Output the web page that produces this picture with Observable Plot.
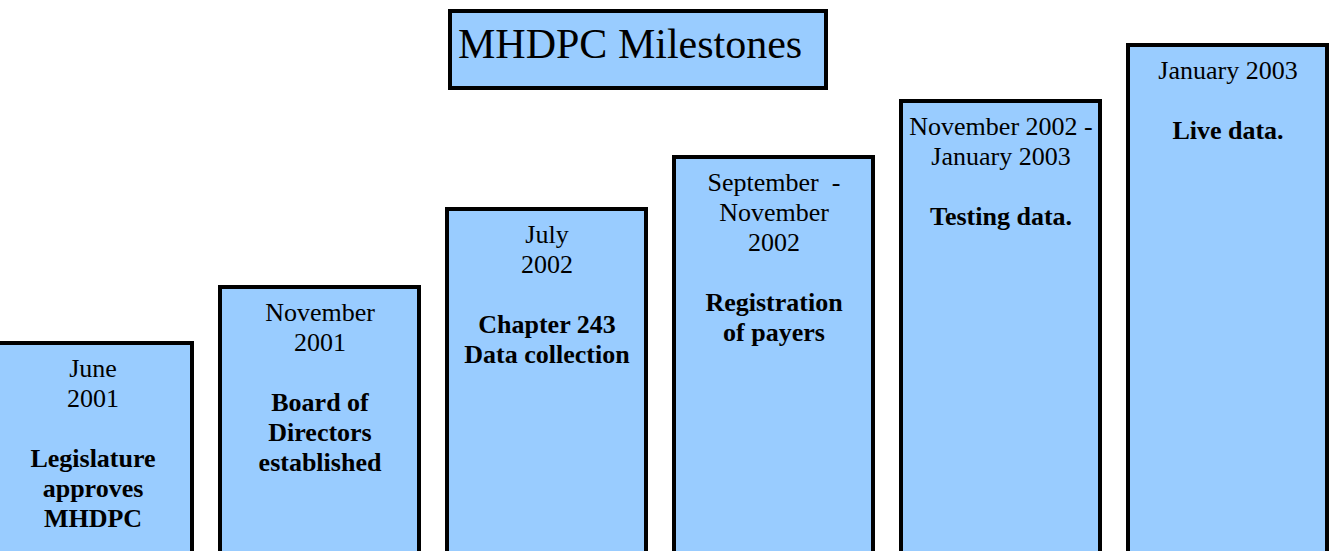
<!DOCTYPE html>
<html>
<head>
<meta charset="utf-8">
<script src="https://cdn.jsdelivr.net/npm/d3@7"></script>
<script src="https://cdn.jsdelivr.net/npm/@observablehq/plot@0.6"></script>
<style>
  html, body { margin: 0; padding: 0; background: #fff; overflow: hidden; }
  #wrap { position: relative; width: 1338px; height: 551px; overflow: hidden; }
  #wrap svg { overflow: hidden; }
  #wrap svg text { white-space: pre; }
  #title {
    position: absolute; left: 448px; top: 9px; width: 380px; height: 81px;
    box-sizing: border-box; border: 4px solid #000; background: #99CCFF;
    font-family: "Liberation Serif", "Times New Roman", serif; font-size: 42px;
    line-height: 42px; padding: 10px 0 0 6px; color: #000; white-space: nowrap;
  }
</style>
</head>
<body>
<div id="wrap"><div id="title"></div></div>
<script>
const chartTitle = "MHDPC Milestones";
const periods = ["June 2001", "November 2001", "July 2002", "September - November 2002", "November 2002 - January 2003", "January 2003"];
const dateLines = [
  ["June", "2001"],
  ["November", "2001"],
  ["July", "2002"],
  ["September  -", "November", "2002"],
  ["November 2002 -", "January 2003"],
  ["January 2003"]
];
const eventLines = [
  ["Legislature", "approves", "MHDPC"],
  ["Board of", "Directors", "established"],
  ["Chapter 243", "Data collection"],
  ["Registration", "of payers"],
  ["Testing data."],
  ["Live data."]
];
const stepHeights = [208, 264, 342, 394, 450, 506];

const rows = periods.map((p, i) => ({
  period: p,
  height: stepHeights[i],
  dates: dateLines[i].join("\n"),
  events: dateLines[i].map(() => "\u00a0").concat(["\u00a0"], eventLines[i]).join("\n")
}));

const font = '"Liberation Serif", "Times New Roman", serif';

const chart = Plot.plot({
  width: 1338,
  height: 551,
  margin: 0,
  style: { background: "#fff", fontFamily: font, overflow: "hidden" },
  x: { type: "band", domain: periods, range: [-10, 1330], paddingInner: 0.1228, paddingOuter: 0, axis: null },
  y: { domain: [0, 551], range: [551, 0], axis: null },
  marks: [
    Plot.barY(rows, { x: "period", y1: () => -8, y2: "height", fill: "#99CCFF", stroke: "#000", strokeWidth: 4 }),
    Plot.text(rows, { x: "period", y: "height", text: "dates", lineAnchor: "top", dy: 12.5, lineHeight: 30 / 26, fontSize: 26, fill: "#000", fontFamily: font }),
    Plot.text(rows, { x: "period", y: "height", text: "events", lineAnchor: "top", dy: 12.5, lineHeight: 30 / 26, fontSize: 26, fontWeight: "bold", fill: "#000", fontFamily: font })
  ]
});

document.getElementById("wrap").appendChild(chart);
document.getElementById("title").textContent = chartTitle;
</script>
</body>
</html>
